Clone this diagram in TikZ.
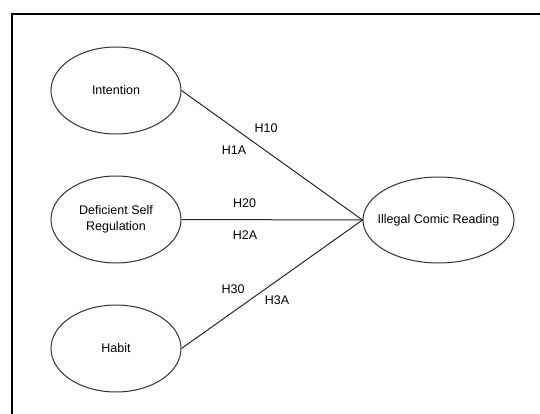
\documentclass[tikz,border=0pt]{standalone}
\usepackage{fontspec}
\setmainfont{Liberation Sans}
\usetikzlibrary{shapes.geometric}
\begin{document}
\begin{tikzpicture}[x=1pt,y=-1pt,
  construct/.style={ellipse,draw=black!80,line width=1pt,minimum width=130pt,minimum height=87pt,inner sep=0pt,align=center,font=\fontsize{12.5}{15.5}\selectfont},
  link/.style={draw=black!85,line width=1pt},
  hlabel/.style={inner sep=0pt,font=\fontsize{12.5}{15}\selectfont}]
\path[use as bounding box] (0,0) rectangle (540,414);
\begin{scope}
\clip (0,0) rectangle (540,414);
\draw[line width=2pt] (11.5,14) rectangle (560,440);
\end{scope}
\node[construct] (int) at (116,90.5) {Intention};
\node[construct] (dsr) at (116,219.5) {Deficient Self\\Regulation};
\node[construct] (hab) at (116,348.5) {Habit};
\node[construct,minimum width=151pt,minimum height=86pt] (icr) at (438.5,220) {\makebox[0pt][c]{Illegal Comic Reading}};
\draw[link] (int.east) -- (icr.west);
\draw[link] (dsr.east) -- (icr.west);
\draw[link] (hab.east) -- (icr.west);
\node[hlabel] (h10) at (266,128) {H10};
\node[hlabel] (h1a) at (234,150) {H1A};
\node[hlabel] (h20) at (244.5,203) {H20};
\node[hlabel] (h2a) at (245,235) {H2A};
\node[hlabel] (h30) at (233,289) {H30};
\node[hlabel] (h3a) at (277,300) {H3A};
\end{tikzpicture}
\end{document}
